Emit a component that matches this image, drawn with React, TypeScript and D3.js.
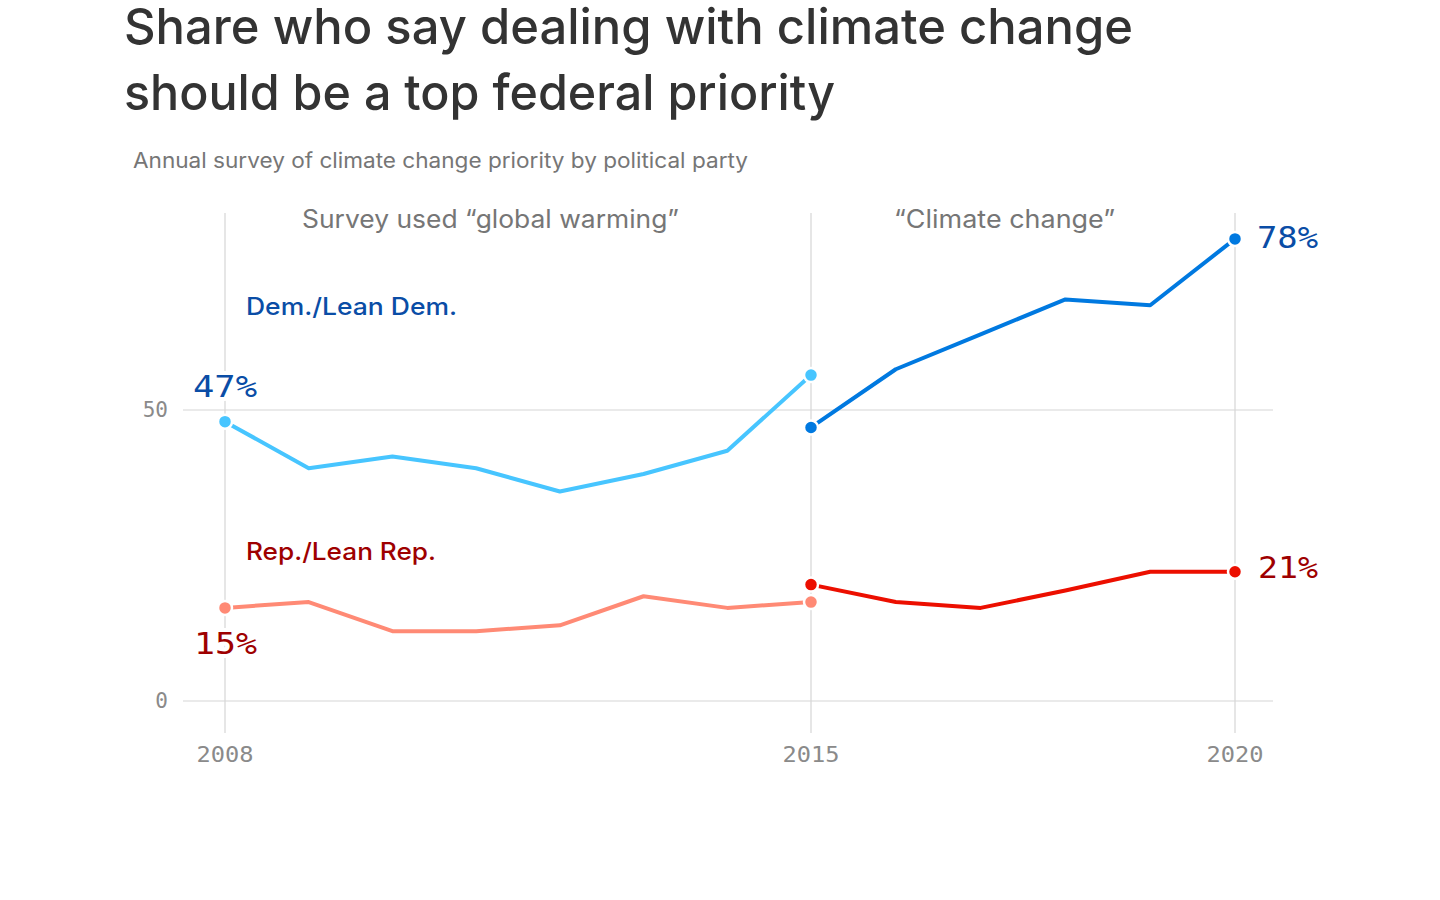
import React from "react";
import * as d3 from "d3";

const yearsGW = [2008, 2009, 2010, 2011, 2012, 2013, 2014, 2015];
const yearsCC = [2015, 2016, 2017, 2018, 2019, 2020];
const demGW = [48, 40, 42, 40, 36, 39, 43, 56];
const demCC = [47, 57, 63, 69, 68, 79.4];
const repGW = [16, 17, 12, 12, 13, 18, 16, 17];
const repCC = [20, 17, 16, 19, 22.2, 22.2];
const xTicks = [2008, 2015, 2020];
const yTicks = [0, 50];

const titleLines = [
  "Share who say dealing with climate change",
  "should be a top federal priority",
];
const subtitle = "Annual survey of climate change priority by political party";
const periodLabels = ["Survey used \u201cglobal warming\u201d", "\u201cClimate change\u201d"];
const seriesLabels = ["Dem./Lean Dem.", "Rep./Lean Rep."];
const valueLabels = ["47%", "15%", "78%", "21%"];

const C = {
  demLight: "#47c5ff",
  dem: "#0079e0",
  repLight: "#ff8a75",
  rep: "#ec0f00",
  demText: "#0a4da6",
  repText: "#9e0000",
  grid: "#e3e3e3",
  vgrid: "#d6d6d6",
  tick: "#8a8a8a",
  note: "#767676",
  title: "#333333",
};

const SANS = "Inter, 'Noto Sans', Roboto, sans-serif";
const MONO = "'DejaVu Sans Mono', 'Liberation Mono', monospace";

export default function App() {
  const x = d3.scaleLinear().domain([2008, 2015, 2020]).range([225, 811, 1235]);
  const y = d3.scaleLinear().domain([0, 50]).range([701, 410]);

  const line = d3
    .line<[number, number]>()
    .x((d) => x(d[0]))
    .y((d) => y(d[1]));

  const zip = (xs: number[], vs: number[]) => xs.map((v, i) => [v, vs[i]] as [number, number]);

  const series = [
    { data: zip(yearsGW, demGW), color: C.demLight },
    { data: zip(yearsGW, repGW), color: C.repLight },
    { data: zip(yearsCC, demCC), color: C.dem },
    { data: zip(yearsCC, repCC), color: C.rep },
  ];

  const gridX0 = 183;
  const gridX1 = 1273;
  const vTop = 213;
  const vBot = 733;

  const halo = {
    stroke: "#fff",
    strokeWidth: 8,
    paintOrder: "stroke",
    strokeLinejoin: "round" as const,
  };

  return (
    <svg
      width={1440}
      height={900}
      style={{ position: "absolute", left: 0, top: 0, display: "block", background: "#fff" }}
    >
      {/* Title */}
      {titleLines.map((t, i) => (
        <text
          key={t}
          x={124}
          y={44 + i * 66}
          fontFamily={SANS}
          fontSize={50}
          fontWeight={500}
          fill={C.title}
          textLength={i === 0 ? 1009 : 711}
          lengthAdjust="spacingAndGlyphs"
        >
          {t}
        </text>
      ))}
      <text
        x={133}
        y={168}
        fontFamily={SANS}
        fontSize={21}
        fill={C.note}
        textLength={615}
        lengthAdjust="spacingAndGlyphs"
      >
        {subtitle}
      </text>

      {/* Horizontal grid */}
      {yTicks.map((t) => (
        <g key={"y" + t}>
          <line x1={gridX0} x2={gridX1} y1={y(t)} y2={y(t)} stroke={C.grid} strokeWidth={1.5} />
          <text
            x={168}
            y={y(t) + 7}
            textAnchor="end"
            fontFamily={MONO}
            fontSize={21}
            fill={C.tick}
          >
            {t}
          </text>
        </g>
      ))}

      {/* Vertical grid */}
      {xTicks.map((t) => (
        <g key={"x" + t}>
          <line x1={x(t)} x2={x(t)} y1={vTop} y2={vBot} stroke={C.vgrid} strokeWidth={1.2} />
          <text
            x={x(t)}
            y={762}
            textAnchor="middle"
            fontFamily={MONO}
            fontSize={21}
            fill={C.tick}
            textLength={57}
            lengthAdjust="spacingAndGlyphs"
          >
            {t}
          </text>
        </g>
      ))}

      {/* Period labels */}
      <text
        x={302}
        y={228}
        fontFamily={SANS}
        fontSize={25}
        fill={C.note}
        textLength={377}
        lengthAdjust="spacingAndGlyphs"
        {...halo}
      >
        {periodLabels[0]}
      </text>
      <text
        x={894}
        y={228}
        fontFamily={SANS}
        fontSize={25}
        fill={C.note}
        textLength={221}
        lengthAdjust="spacingAndGlyphs"
        {...halo}
      >
        {periodLabels[1]}
      </text>

      {/* Series labels */}
      <text
        x={246}
        y={315}
        fontFamily={SANS}
        fontSize={24}
        fontWeight={500}
        fill={C.demText}
        textLength={211}
        lengthAdjust="spacingAndGlyphs"
      >
        {seriesLabels[0]}
      </text>
      <text
        x={246}
        y={560}
        fontFamily={SANS}
        fontSize={24}
        fontWeight={500}
        fill={C.repText}
        textLength={190}
        lengthAdjust="spacingAndGlyphs"
      >
        {seriesLabels[1]}
      </text>

      {/* Lines */}
      {series.map((s, i) => (
        <path
          key={"l" + i}
          d={line(s.data) || ""}
          fill="none"
          stroke={s.color}
          strokeWidth={4}
          strokeLinejoin="round"
        />
      ))}

      {/* Endpoints */}
      {series.map((s, i) =>
        [s.data[0], s.data[s.data.length - 1]].map((d, j) => (
          <circle
            key={"c" + i + "-" + j}
            cx={x(d[0])}
            cy={y(d[1])}
            r={7}
            fill={s.color}
            stroke="#fff"
            strokeWidth={2.5}
          />
        ))
      )}

      {/* Value labels */}
      <text x={193} y={397} fontFamily={MONO} fontSize={30} fill={C.demText} textLength={64} lengthAdjust="spacingAndGlyphs" {...halo}>
        {valueLabels[0]}
      </text>
      <text x={194} y={654} fontFamily={MONO} fontSize={30} fill={C.repText} textLength={63} lengthAdjust="spacingAndGlyphs" {...halo}>
        {valueLabels[1]}
      </text>
      <text x={1257} y={248} fontFamily={MONO} fontSize={30} fill={C.demText} textLength={61} lengthAdjust="spacingAndGlyphs">
        {valueLabels[2]}
      </text>
      <text x={1258} y={578} fontFamily={MONO} fontSize={30} fill={C.repText} textLength={60} lengthAdjust="spacingAndGlyphs">
        {valueLabels[3]}
      </text>
    </svg>
  );
}
